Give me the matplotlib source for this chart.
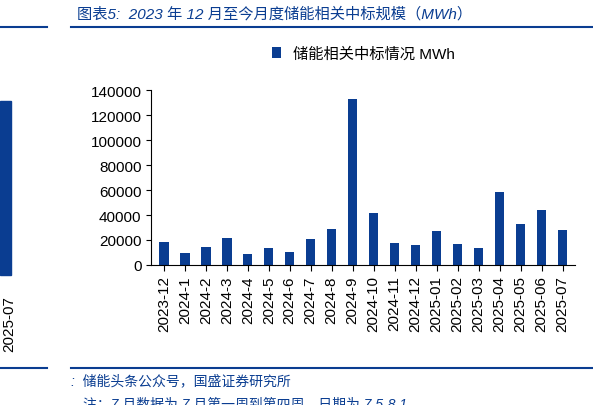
import matplotlib
matplotlib.use('Agg')
import matplotlib.pyplot as plt

plt.rcParams['font.family'] = ['Liberation Sans', 'Noto Sans CJK SC', 'DejaVu Sans']

months = ['2023-12','2024-1','2024-2','2024-3','2024-4','2024-5','2024-6','2024-7','2024-8','2024-9',
          '2024-10','2024-11','2024-12','2025-01','2025-02','2025-03','2025-04','2025-05','2025-06','2025-07']
values = [18400,9600,14400,21600,8800,13600,10400,20800,28800,132800,
          41600,17600,16000,27200,16800,13600,58400,32800,44000,28000]
yticks = [0,20000,40000,60000,80000,100000,120000,140000]
blue = '#0a3d91'

fig = plt.figure(figsize=(5.93,4.06), dpi=100)
ax = fig.add_axes([0.255, 0.345, 0.715, 0.43])
ax.bar(range(len(months)), values, width=0.45, color=blue, label='储能相关中标情况 MWh')
ax.set_xlim(-0.6, len(months)-0.4)
ax.set_ylim(0, 140000)
ax.set_yticks(yticks)
ax.set_yticklabels([str(v) for v in yticks], fontsize=11)
ax.set_xticks(range(len(months)))
ax.set_xticklabels(months, rotation=90, fontsize=11)
for s in ['top','right']:
    ax.spines[s].set_visible(False)
ax.tick_params(axis='x', length=4)
ax.legend(loc='upper center', bbox_to_anchor=(0.5, 1.33), frameon=False, fontsize=11, handlelength=0.6)

fig.text(0.13, 0.965, '图表5:  2023 年 12 月至今月度储能相关中标规模（MWh）', color=blue,
         fontsize=11, style='italic', va='center')
fig.add_artist(plt.Line2D([0.0, 0.08], [0.93, 0.93], color=blue, lw=1.5))
fig.add_artist(plt.Line2D([0.12, 1.0], [0.93, 0.93], color=blue, lw=1.5))
fig.add_artist(plt.Line2D([0.0, 0.08], [0.09, 0.09], color=blue, lw=1.5))
fig.add_artist(plt.Line2D([0.12, 1.0], [0.09, 0.09], color=blue, lw=1.5))
fig.add_artist(plt.Rectangle((0.0, 0.32), 0.018, 0.43, color=blue))
fig.text(0.003, 0.27, '2025-07', rotation=90, fontsize=11, va='top')
fig.text(0.12, 0.06, ':  储能头条公众号，国盛证券研究所', color=blue, fontsize=10, style='italic', va='center')
fig.text(0.14, 0.005, '注：7 月数据为 7 月第一周到第四周，日期为 7.5-8.1', color=blue, fontsize=10,
         style='italic', va='center')
fig.savefig('out.png', dpi=100)
